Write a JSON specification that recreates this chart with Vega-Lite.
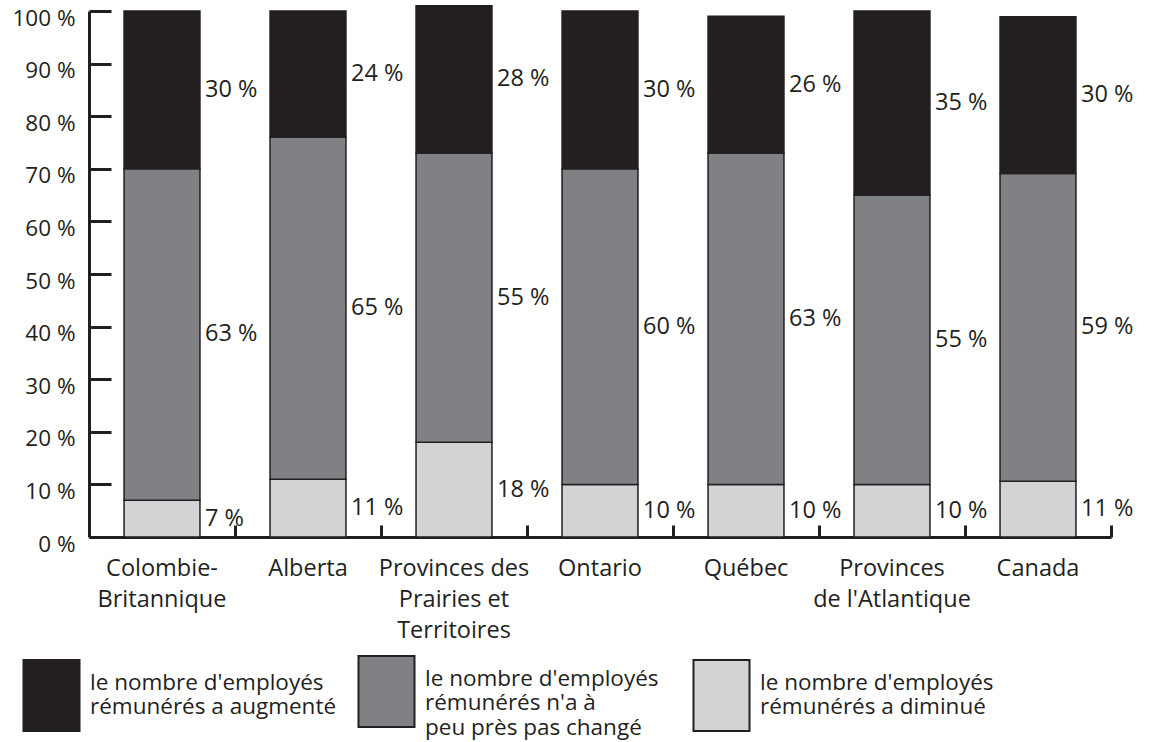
{
  "$schema": "https://vega.github.io/schema/vega-lite/v6.json",
  "width": 1022,
  "height": 526,
  "autosize": {"type": "none"},
  "padding": {"left": 89, "top": 11, "right": 39, "bottom": 205},
  "background": "white",
  "config": {"view": {"stroke": null}, "font": "Open Sans"},
  "data": {
    "values": [
      {"region": "Colombie-|Britannique", "category": "le nombre d'employés|rémunérés a diminué", "value": 7},
      {"region": "Colombie-|Britannique", "category": "le nombre d'employés|rémunérés n'a à|peu près pas changé", "value": 63},
      {"region": "Colombie-|Britannique", "category": "le nombre d'employés|rémunérés a augmenté", "value": 30},
      {"region": "Alberta", "category": "le nombre d'employés|rémunérés a diminué", "value": 11},
      {"region": "Alberta", "category": "le nombre d'employés|rémunérés n'a à|peu près pas changé", "value": 65},
      {"region": "Alberta", "category": "le nombre d'employés|rémunérés a augmenté", "value": 24},
      {"region": "Provinces des|Prairies et|Territoires", "category": "le nombre d'employés|rémunérés a diminué", "value": 18},
      {"region": "Provinces des|Prairies et|Territoires", "category": "le nombre d'employés|rémunérés n'a à|peu près pas changé", "value": 55},
      {"region": "Provinces des|Prairies et|Territoires", "category": "le nombre d'employés|rémunérés a augmenté", "value": 28},
      {"region": "Ontario", "category": "le nombre d'employés|rémunérés a diminué", "value": 10},
      {"region": "Ontario", "category": "le nombre d'employés|rémunérés n'a à|peu près pas changé", "value": 60},
      {"region": "Ontario", "category": "le nombre d'employés|rémunérés a augmenté", "value": 30},
      {"region": "Québec", "category": "le nombre d'employés|rémunérés a diminué", "value": 10},
      {"region": "Québec", "category": "le nombre d'employés|rémunérés n'a à|peu près pas changé", "value": 63},
      {"region": "Québec", "category": "le nombre d'employés|rémunérés a augmenté", "value": 26},
      {"region": "Provinces|de l'Atlantique", "category": "le nombre d'employés|rémunérés a diminué", "value": 10},
      {"region": "Provinces|de l'Atlantique", "category": "le nombre d'employés|rémunérés n'a à|peu près pas changé", "value": 55},
      {"region": "Provinces|de l'Atlantique", "category": "le nombre d'employés|rémunérés a augmenté", "value": 35},
      {"region": "Canada", "category": "le nombre d'employés|rémunérés a diminué", "value": 10.6},
      {"region": "Canada", "category": "le nombre d'employés|rémunérés n'a à|peu près pas changé", "value": 58.5},
      {"region": "Canada", "category": "le nombre d'employés|rémunérés a augmenté", "value": 29.8}
    ]
  },
  "transform": [
    {"calculate": "test(/augment/, datum.category) ? 2 : (test(/diminu/, datum.category) ? 0 : 1)", "as": "rank"},
    {"stack": "value", "groupby": ["region"], "sort": [{"field": "rank", "order": "ascending"}], "as": ["y0", "y1"]},
    {"calculate": "(datum.y0 + datum.y1) / 2", "as": "ymid"},
    {"calculate": "format(datum.value, '.0f') + ' %'", "as": "lbl"}
  ],
  "layer": [
    {
      "mark": {"type": "bar", "stroke": "#231f20", "strokeWidth": 1.5},
      "encoding": {
        "x": {
          "field": "region", "type": "nominal", "sort": null,
          "scale": {"type": "band", "paddingInner": 0.48, "paddingOuter": 0.24},
          "axis": {
            "title": null, "labelAngle": 0, "labelExpr": "split(datum.label, '|')",
            "bandPosition": 1.462, "tickSize": -12, "tickWidth": 3, "tickColor": "#231f20",
            "domainColor": "#231f20", "domainWidth": 3,
            "labelPadding": 31, "labelBaseline": "top", "labelLineHeight": 31,
            "labelFontSize": 23.5, "labelColor": "#231f20", "labelLimit": 0, "labelFont": "Open Sans"
          }
        },
        "y": {
          "field": "y1", "type": "quantitative",
          "scale": {"domain": [0, 100], "nice": false},
          "axis": {
            "title": null, "values": [0, 10, 20, 30, 40, 50, 60, 70, 80, 90, 100],
            "labelExpr": "datum.value + ' %'", "grid": false,
            "tickSize": -22, "tickWidth": 3, "tickColor": "#231f20",
            "domainColor": "#231f20", "domainWidth": 3, "labelOffset": 7,
            "labelPadding": 36, "labelFontSize": 22.5, "labelColor": "#231f20", "labelFont": "Open Sans"
          }
        },
        "y2": {"field": "y0"},
        "color": {
          "field": "category", "type": "nominal",
          "scale": {
            "domain": ["le nombre d'employés|rémunérés a augmenté", "le nombre d'employés|rémunérés n'a à|peu près pas changé", "le nombre d'employés|rémunérés a diminué"],
            "range": ["#231f20", "#808184", "#d1d3d4"]
          },
          "legend": {
            "title": null, "orient": "none", "legendX": -74, "legendY": 644,
            "direction": "horizontal", "columns": 3, "gridAlign": "all", "columnPadding": 13,
            "padding": 0,
            "symbolType": "M-0.789,-1H0.789V1H-0.789Z", "symbolSize": 5041,
            "symbolStrokeColor": "#231f20", "symbolStrokeWidth": 2, "symbolOpacity": 1,
            "labelExpr": "split(datum.label, '|')", "labelLimit": 0, "labelOffset": 2,
            "labelFontSize": 22.5, "labelColor": "#231f20", "labelBaseline": "line-bottom", "labelFont": "Open Sans"
          }
        }
      }
    },
    {
      "mark": {"type": "text", "align": "left", "baseline": "middle", "dx": 5, "fontSize": 23.5, "color": "#231f20", "font": "Open Sans"},
      "encoding": {
        "x": {"field": "region", "type": "nominal", "sort": null, "bandPosition": 1},
        "y": {"field": "ymid", "type": "quantitative"},
        "text": {"field": "lbl"}
      }
    }
  ]
}
